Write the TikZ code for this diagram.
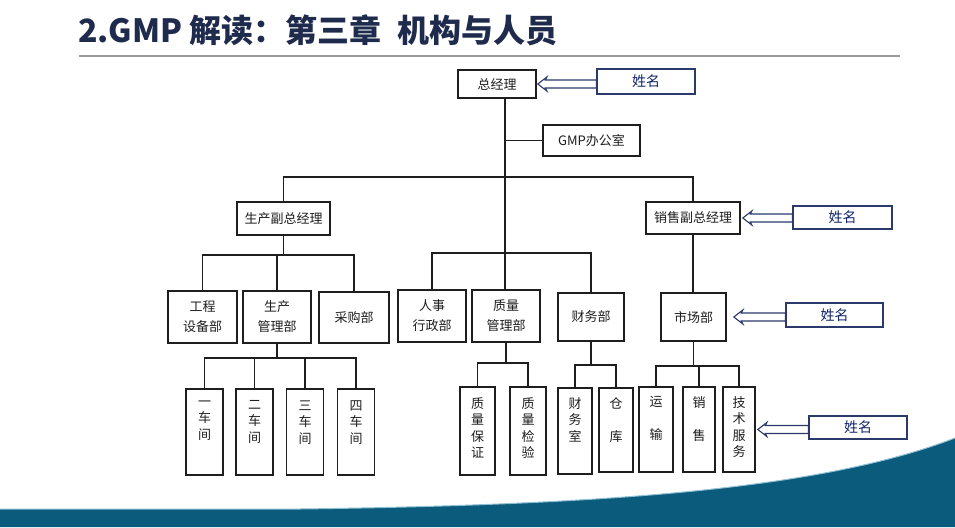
\documentclass[tikz,border=0pt]{standalone}
\usepackage{fontspec}
\setmainfont{Noto Sans CJK SC}
\usetikzlibrary{calc}
\definecolor{band}{HTML}{0B5B7D}
\definecolor{bandlight}{HTML}{8FBFD4}
\definecolor{ttl}{HTML}{1F2B4D}
\definecolor{ink}{HTML}{1E1E1E}
\definecolor{nav}{HTML}{2B3A6B}
\definecolor{navtxt}{HTML}{102468}
\definecolor{rulegray}{HTML}{9A9A9A}
\newcommand\myNameArrow[3]{%
  \path ($(#1.east)+(#3,0)$) coordinate (tip);
  \draw[hollow] (tip) -- ++(9,-7) -- ++(-1.5,3) -- ($(tip -| #2.west)+(0,-4)$) -- ($(tip -| #2.west)+(0,4)$) -- ($(tip)+(7.5,4)$) -- ($(tip)+(9,7)$) -- cycle;}
\begin{document}
\begin{tikzpicture}[x=1pt,y=-1pt,
 orgbox/.style={draw=ink, line width=1.6pt, fill=white, inner sep=0pt, text=ink, font=\fontsize{13}{20}\selectfont, align=center},
 vbox/.style={draw=ink, line width=1.6pt, fill=white, inner sep=0pt},
 vtext/.style={anchor=north, inner sep=0pt, text=ink, font=\fontsize{13}{16.5}\selectfont, align=center},
 namebox/.style={draw=nav, line width=1.2pt, fill=white, inner sep=0pt, text=navtxt, font=\fontsize{14}{16}\selectfont},
 link/.style={draw=ink, line width=1.5pt},
 hollow/.style={draw=nav, line width=1.1pt, fill=white, line join=miter}
]
\useasboundingbox (0,0) rectangle (955,527);
\fill[white] (0,0) rectangle (955,527);
% bottom band
\fill[band] (0,509) -- (300,509) .. controls (600,505) and (820,490) .. (955,438) -- (955,527) -- (0,527) -- cycle;
\draw[bandlight, line width=1pt] (0,509) -- (300,509) .. controls (600,505) and (820,490) .. (955,438);
% title
\node[anchor=west, text=ttl, font=\fontsize{32}{36}\selectfont\bfseries, inner sep=0pt] (title) at (78,30) {2.GMP 解读：第三章\hspace{0.5em}机构与人员};
\draw[rulegray, line width=1.5pt] (79,56) -- (900,56);
% level boxes
\node[orgbox, minimum width=78, minimum height=28] (zjl) at (497,84) {总经理};
\node[orgbox, minimum width=97, minimum height=31] (gmp) at (591.5,140.5) {GMP办公室};
\node[orgbox, minimum width=93, minimum height=33] (scf) at (283.5,218.5) {生产副总经理};
\node[orgbox, minimum width=94, minimum height=32] (xsf) at (693,218) {销售副总经理};
\node[orgbox, minimum width=69, minimum height=52] (gc) at (202.5,317) {工程\\设备部};
\node[orgbox, minimum width=68, minimum height=52] (scgl) at (277,317) {生产\\管理部};
\node[orgbox, minimum width=70, minimum height=51] (cg) at (354,317.5) {采购部};
\node[orgbox, minimum width=68, minimum height=52] (rs) at (432,316) {人事\\行政部};
\node[orgbox, minimum width=68, minimum height=52] (zl) at (506,316) {质量\\管理部};
\node[orgbox, minimum width=66, minimum height=48] (cw) at (591,317) {财务部};
\node[orgbox, minimum width=65, minimum height=48] (sc) at (693.5,317) {市场部};
% vertical boxes
\node[vbox, minimum width=37, minimum height=86] (c1) at (204.5,432) {};
\node[vbox, minimum width=37, minimum height=86] (c2) at (254.5,432) {};
\node[vbox, minimum width=37, minimum height=86] (c3) at (305,432) {};
\node[vbox, minimum width=37, minimum height=86] (c4) at (356,432) {};
\node[vbox, minimum width=35, minimum height=88] (zb) at (477.5,431) {};
\node[vbox, minimum width=36, minimum height=88] (zj) at (528,431) {};
\node[vbox, minimum width=34, minimum height=86] (cws) at (575,431) {};
\node[vbox, minimum width=34, minimum height=84] (ck) at (616,430) {};
\node[vbox, minimum width=34, minimum height=85] (ys) at (656,429.5) {};
\node[vbox, minimum width=32, minimum height=85] (xs) at (699,429.5) {};
\node[vbox, minimum width=32, minimum height=85] (js) at (739,429.5) {};
\node[vtext] (c1t) at ($(c1.north)+(0,12)$) {一\\车\\间};
\node[vtext] (c2t) at ($(c2.north)+(0,12)$) {二\\车\\间};
\node[vtext] (c3t) at ($(c3.north)+(0,12)$) {三\\车\\间};
\node[vtext] (c4t) at ($(c4.north)+(0,12)$) {四\\车\\间};
\node[vtext] (zbt) at ($(zb.north)+(0,11)$) {质\\量\\保\\证};
\node[vtext] (zjt) at ($(zj.north)+(0,11)$) {质\\量\\检\\验};
\node[vtext] (cwst) at ($(cws.north)+(0,10)$) {财\\务\\室};
\node[vtext] (ckt) at ($(ck.north)+(0,10)$) {仓\\[16.5pt]库};
\node[vtext] (yst) at ($(ys.north)+(0,10)$) {运\\[16.5pt]输};
\node[vtext] (xst) at ($(xs.north)+(0,10)$) {销\\[16.5pt]售};
\node[vtext] (jst) at ($(js.north)+(0,10)$) {技\\术\\服\\务};
% name boxes
\node[namebox, minimum width=98, minimum height=25] (nm1) at (646,81.5) {姓名\hspace{18pt}};
\node[namebox, minimum width=99, minimum height=23] (nm2) at (842.5,217.5) {姓名\hspace{18pt}};
\node[namebox, minimum width=97, minimum height=24] (nm3) at (834.5,315) {姓名\hspace{18pt}};
\node[namebox, minimum width=98, minimum height=23] (nm4) at (858,427.5) {姓名\hspace{18pt}};
% connectors
\coordinate (t1) at (505,253);
\draw[link] (zjl.south -| t1) -- (t1);
\draw[link] (gmp.west) -- (gmp.west -| t1);
\draw[link] (scf.north) -- ++(0,-24) -| (xsf.north);
\draw[link] (scf.south) -- ++(0,19) coordinate (k0);
\draw[link] (gc.north) |- (k0) -| (cg.north);
\draw[link] (scgl.north) -- (scgl.north |- k0);
\draw[link] (rs.north) |- (t1) -| (cw.north);
\draw[link] (t1) -- (t1 |- zl.north);
\draw[link] (xsf.south) -- (xsf.south |- sc.north);
\draw[link] (scgl.south) -- ++(0,14) coordinate (k1);
\draw[link] (c1.north) |- (k1) -| (c4.north);
\draw[link] (c2.north) -- (c2.north |- k1);
\draw[link] (c3.north) -- (c3.north |- k1);
\draw[link] (zl.south) -- ++(0,20) coordinate (k2);
\draw[link] (zb.north) |- (k2) -| (zj.north);
\draw[link] (cw.south) -- ++(0,23) coordinate (k3);
\draw[link] (cws.north) |- (k3) -| (ck.north);
\draw[link] (sc.south) -- ++(0,24) coordinate (k4);
\draw[link] (ys.north) |- (k4) -| (js.north);
\draw[link] (xs.north) -- (xs.north |- k4);
% name arrows
\myNameArrow{zjl}{nm1}{1}
\myNameArrow{xsf}{nm2}{2}
\myNameArrow{sc}{nm3}{7}
\myNameArrow{js}{nm4}{2}
\end{tikzpicture}
\end{document}
